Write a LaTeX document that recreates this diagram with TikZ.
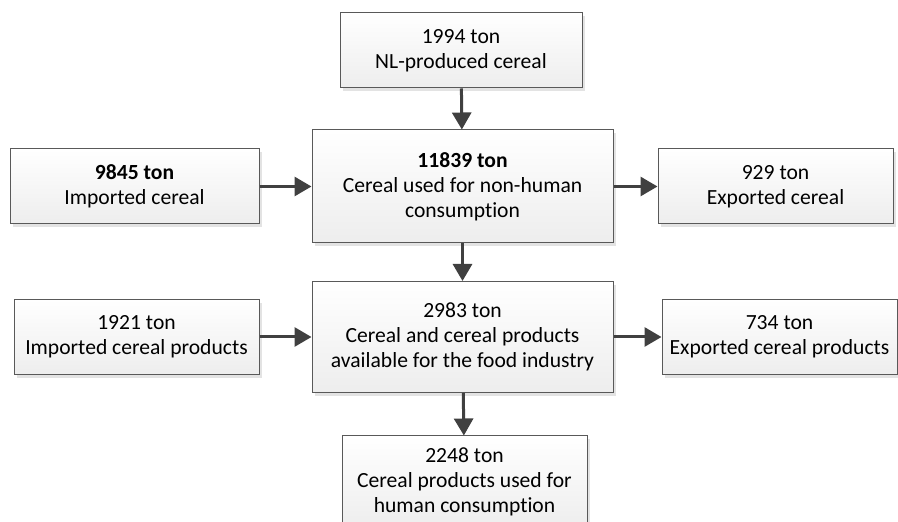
\documentclass[tikz,border=0pt]{standalone}
\usepackage{fontspec}
\setmainfont[RawFeature={-liga;-clig;-dlig}]{Carlito}
\usetikzlibrary{arrows.meta,shadows}
\definecolor{edge}{HTML}{595959}
\definecolor{flow}{HTML}{404040}

\begin{document}
\begin{tikzpicture}[x=0.5pt,y=-0.5pt,
  flowbox/.style={draw=edge,line width=0.5pt,top color=white,bottom color=gray!14,
    drop shadow={shadow xshift=1.6pt,shadow yshift=-1.6pt,fill=gray!22,opacity=1},
    minimum width=#1,align=center,inner sep=0pt,
    font=\fontsize{10.8}{12.6}\selectfont},
  flowbox/.default=121pt,
  flowarrow/.style={draw=flow,line width=1.5pt,-{Triangle[length=8.5pt,width=9.5pt]}},
]
  \clip (0,0) rectangle (898,522);
  \node[flowbox=121pt,minimum height=37.5pt] (prod) at (461,50.5) {1994 ton\\NL-produced cereal};
  \node[flowbox=150.5pt,minimum height=56.5pt] (nonhum) at (462.5,186.5) {\textbf{11839 ton}\\Cereal used for non-human\\consumption};
  \node[flowbox=124.5pt,minimum height=37.5pt] (imp) at (134.5,186.5) {\textbf{9845 ton}\\Imported cereal};
  \node[flowbox=117.5pt,minimum height=37.5pt] (exp) at (775.5,186.5) {929 ton\\Exported cereal};
  \node[flowbox=150.5pt,minimum height=55.5pt] (food) at (462.5,337) {2983 ton\\Cereal and cereal products\\available for the food industry};
  \node[flowbox=122.5pt,minimum height=37.5pt] (impp) at (136.5,337) {1921 ton\\Imported cereal products};
  \node[flowbox=117.5pt,minimum height=37.5pt] (expp) at (779.5,337) {734 ton\\Exported cereal products};
  \node[flowbox=122.5pt,minimum height=46pt] (hum) at (464.5,482) {2248 ton\\Cereal products used for\\human consumption};

  \draw[flowarrow] (prod) -- (nonhum);
  \draw[flowarrow] (imp) -- (nonhum);
  \draw[flowarrow] (nonhum) -- (exp);
  \draw[flowarrow] (nonhum) -- (food);
  \draw[flowarrow] (impp) -- (food);
  \draw[flowarrow] (food) -- (expp);
  \draw[flowarrow] (food) -- (hum);
\end{tikzpicture}
\end{document}
